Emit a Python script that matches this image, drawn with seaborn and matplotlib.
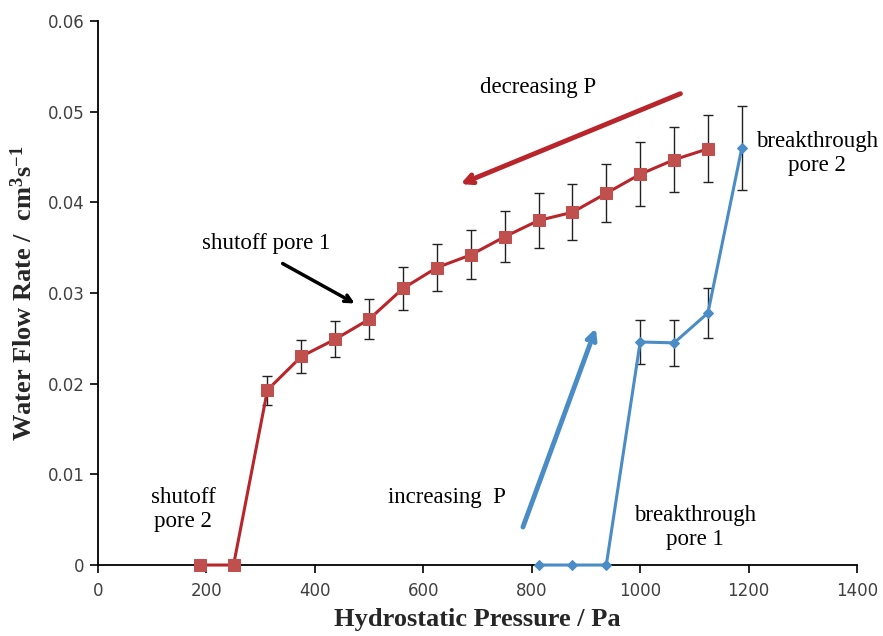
import matplotlib
matplotlib.use("Agg")
import matplotlib.pyplot as plt
import seaborn as sns
import pandas as pd

# decreasing pressure series
dec_p = [187.5, 250, 312.5, 375, 437.5, 500, 562.5, 625, 687.5, 750, 812.5, 875, 937.5, 1000, 1062.5, 1125]
dec_q = [0, 0, 0.0193, 0.0230, 0.0249, 0.0271, 0.0305, 0.0328, 0.0342, 0.0362, 0.0380, 0.0389, 0.0410, 0.0431, 0.0447, 0.0459]
dec_err = [0, 0, 0.0016, 0.0018, 0.0020, 0.0022, 0.0024, 0.0026, 0.0027, 0.0028, 0.0030, 0.0031, 0.0032, 0.0035, 0.0036, 0.0037]

# increasing pressure series
inc_p = [812.5, 875, 937.5, 1000, 1062.5, 1125, 1187.5]
inc_q = [0, 0, 0, 0.0246, 0.0245, 0.0278, 0.0460]
inc_err = [0, 0, 0, 0.0024, 0.0025, 0.0028, 0.0046]

x_ticks = [0, 200, 400, 600, 800, 1000, 1200, 1400]
y_ticks = [0, 0.01, 0.02, 0.03, 0.04, 0.05, 0.06]
y_tick_labels = ["0", "0.01", "0.02", "0.03", "0.04", "0.05", "0.06"]

sns.set_style("ticks")
plt.rcParams['font.family'] = ['DejaVu Sans']
plt.rcParams['mathtext.fontset'] = 'custom'
plt.rcParams['mathtext.rm'] = 'Liberation Serif:bold'
plt.rcParams['mathtext.it'] = 'Liberation Serif:bold'
plt.rcParams['mathtext.bf'] = 'Liberation Serif:bold'

fig = plt.figure(figsize=(8.83, 6.36), dpi=100)
ax = fig.add_axes([0.111, 0.1116, 0.8596, 0.8554])

df_dec = pd.DataFrame({"p": dec_p, "q": dec_q})
df_inc = pd.DataFrame({"p": inc_p, "q": inc_q})

red_line = "#b8262b"
red_mark = "#c0504d"
blue_line = "#4a8cc6"

ax.errorbar(dec_p[2:], dec_q[2:], yerr=dec_err[2:], fmt="none", ecolor="#222222",
            elinewidth=1.0, capsize=3.5, capthick=1.0, zorder=2)
ax.errorbar(inc_p[3:], inc_q[3:], yerr=inc_err[3:], fmt="none", ecolor="#222222",
            elinewidth=1.0, capsize=3.5, capthick=1.0, zorder=2)

sns.lineplot(data=df_dec, x="p", y="q", ax=ax, color=red_line, linewidth=2.2,
             marker="s", markersize=8, markerfacecolor=red_mark, markeredgecolor=red_mark,
             sort=False, zorder=3, clip_on=False)
sns.lineplot(data=df_inc, x="p", y="q", ax=ax, color=blue_line, linewidth=2.2,
             marker="D", markersize=5, markerfacecolor=blue_line, markeredgecolor=blue_line,
             sort=False, zorder=3, clip_on=False)

ax.set_xlim(0, 1400)
ax.set_ylim(0, 0.06)
ax.set_xticks(x_ticks)
ax.set_yticks(y_ticks)
ax.set_yticklabels(y_tick_labels)
ax.tick_params(axis="both", labelsize=12, colors="black", labelcolor="#404040",
               length=6, width=1.2, direction="out")
ax.tick_params(axis="x", pad=6)
for s in ["top", "right"]:
    ax.spines[s].set_visible(False)
for s in ["left", "bottom"]:
    ax.spines[s].set_color("black")
    ax.spines[s].set_linewidth(1.3)

ax.set_xlabel("Hydrostatic Pressure / Pa", fontfamily="Liberation Serif",
              fontweight="bold", fontsize=19, labelpad=6)
ax.set_ylabel("Water Flow Rate /  cm$^{3}$s$^{-1}$", fontfamily="Liberation Serif",
              fontweight="bold", fontsize=19, labelpad=8)

serif = dict(fontfamily="Liberation Serif", fontsize=16.5, color="black", ha="center", va="center")
ax.text(812, 0.0527, "decreasing P", **serif)
ax.text(310, 0.0355, "shutoff pore 1", **serif)
ax.text(1326, 0.0454, "breakthrough\npore 2", linespacing=1.2, **serif)
ax.text(157, 0.0061, "shutoff\npore 2", linespacing=1.2, **serif)
ax.text(644, 0.0075, "increasing  P", **serif)
ax.text(1101, 0.0041, "breakthrough\npore 1", linespacing=1.2, **serif)

ax.annotate("", xy=(664, 0.0419), xytext=(1079, 0.0521),
            arrowprops=dict(arrowstyle="->,head_length=0.6,head_width=0.3", color=red_line, lw=3.5))
ax.annotate("", xy=(920, 0.0264), xytext=(782, 0.0039),
            arrowprops=dict(arrowstyle="->,head_length=0.6,head_width=0.3", color=blue_line, lw=3.5))
ax.annotate("", xy=(478, 0.0287), xytext=(336, 0.0334),
            arrowprops=dict(arrowstyle="->,head_length=0.5,head_width=0.25", color="black", lw=2.5))

fig.savefig("out.png", dpi=100)
